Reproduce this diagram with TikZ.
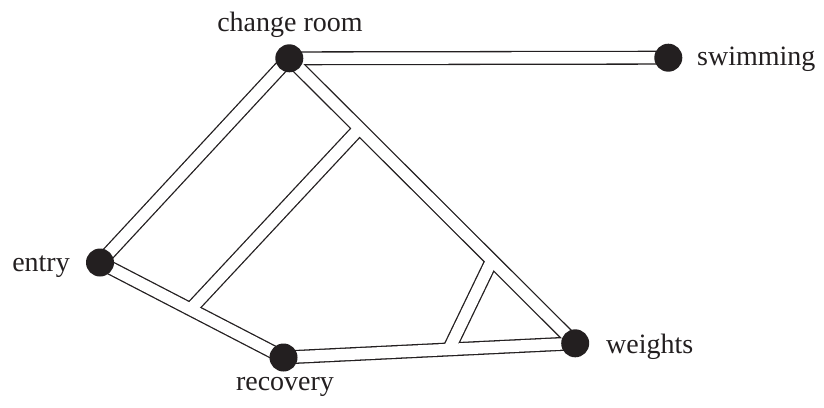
\documentclass[tikz,border=0pt]{standalone}
\usepackage{fontspec}
\setmainfont{Liberation Serif}
\usetikzlibrary{calc,backgrounds}
\definecolor{ink}{HTML}{231F20}
\begin{document}
\begin{tikzpicture}[x=1pt,y=-1pt,
  spot/.style={circle,fill=ink,draw=none,inner sep=0pt,minimum size=28pt},
  lbl/.style={font=\fontsize{28}{33}\selectfont,text=ink,inner sep=0pt},
  walkedge/.style={line width=14pt,draw=ink,line cap=butt},
  walkfill/.style={line width=11.4pt,draw=white,line cap=butt}]
\useasboundingbox (0,0) rectangle (824,407);

% locations
\node[spot] (cr) at (289.3,58.3) {};
\node[spot] (sw) at (668.3,57.7) {};
\node[spot] (en) at (100,262.5) {};
\node[spot] (rc) at (283.5,357.5) {};
\node[spot] (wt) at (575.2,343.3) {};

% where the two short cross paths meet the main paths
\coordinate (j1) at ($(cr.center)!0.2455!(wt.center)$);
\coordinate (j2) at ($(en.center)!0.493!(rc.center)$);
\coordinate (j3) at ($(cr.center)!0.7087!(wt.center)$);
\coordinate (j4) at ($(rc.center)!0.567!(wt.center)$);

% walkways: a dark band first, then a white core, so junctions merge
\begin{scope}[on background layer]
  \foreach \s in {walkedge,walkfill}{
    \draw[\s] (cr.center) -- (sw.center);
    \draw[\s] (cr.center) -- (en.center);
    \draw[\s] (cr.center) -- (wt.center);
    \draw[\s] (en.center) -- (rc.center);
    \draw[\s] (rc.center) -- (wt.center);
    \draw[\s] (j1) -- (j2);
    \draw[\s] (j3) -- (j4);
  }
\end{scope}

% labels
\node[lbl,anchor=base] (crl) at (290,31.5) {change room};
\node[lbl,anchor=base west] (swl) at (697,65) {swimming};
\node[lbl,anchor=base east] (enl) at (70,271.7) {entry};
\node[lbl,anchor=base west] (wtl) at (606,353.3) {weights};
\node[lbl,anchor=base] (rcl) at (285,390) {recovery};
\end{tikzpicture}
\end{document}
